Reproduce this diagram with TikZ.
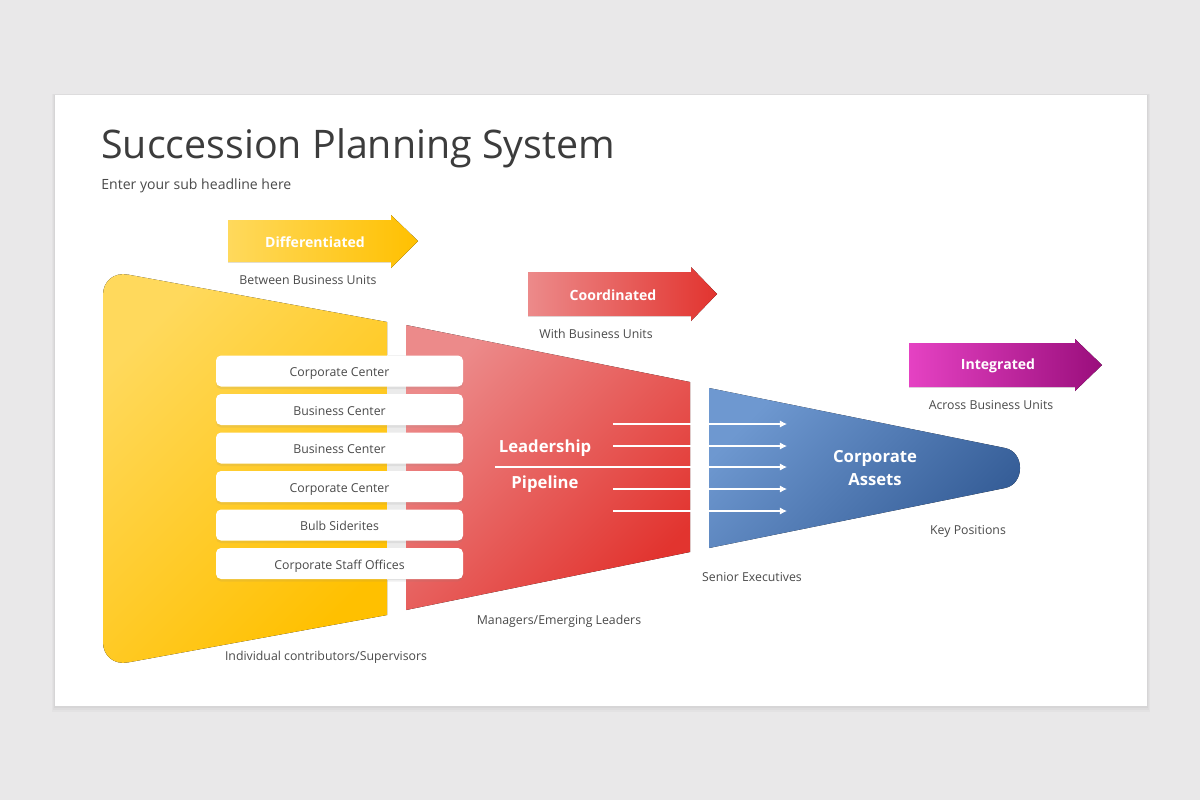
\documentclass[tikz,border=0pt]{standalone}
\usepackage{fontspec}
\setmainfont{Open Sans}
\usetikzlibrary{arrows.meta,shadows}

\definecolor{pagegrey}{HTML}{E9E8E9}
\definecolor{titlegrey}{HTML}{3C3C3C}
\definecolor{textgrey}{HTML}{4A4A4A}
\definecolor{yellowA}{HTML}{FFD95C}
\definecolor{yellowB}{HTML}{FFC000}
\definecolor{redA}{HTML}{EC8A8A}
\definecolor{redB}{HTML}{E2342F}
\definecolor{blueA}{HTML}{6E98D0}
\definecolor{blueB}{HTML}{345C96}
\definecolor{pinkA}{HTML}{E542C3}
\definecolor{pinkB}{HTML}{9A0E7C}

\begin{document}
\begin{tikzpicture}[x=0.2mm,y=-0.2mm,
	lbl/.style={text=textgrey,font=\fontsize{7}{8}\selectfont},
	rowbox/.style={fill=white,rounded corners=1mm,minimum width=49.4mm,minimum height=6.2mm,
		text=textgrey,font=\fontsize{7}{8}\selectfont,text height=1.6ex,text depth=0.4ex,
		drop shadow={opacity=0.12,shadow xshift=0pt,shadow yshift=-0.5mm}},
	flowtxt/.style={text=white,font=\bfseries\fontsize{8}{9}\selectfont},
	bigtxt/.style={text=white,font=\bfseries\fontsize{9.5}{13}\selectfont,align=center},
	pipe/.style={white,line width=0.6pt,-{Latex[length=4pt,width=4pt]}}]

	\useasboundingbox (0,0) rectangle (1200,800);
	\fill[pagegrey] (0,0) rectangle (1200,800);

	% slide
	\fill[black,opacity=0.025] (52,94) rectangle (1150,712);
	\fill[black,opacity=0.025] (53,94) rectangle (1149,710);
	\fill[black,opacity=0.03] (54,95) rectangle (1148,708);
	\fill[white] (55,95) rectangle (1147,706);

	\node[anchor=base west,inner sep=0pt,text=titlegrey,font=\fontsize{22.4}{26}\selectfont] (title) at (101,158) {Succession Planning System};
	\node[anchor=base west,inner sep=0pt,text=textgrey,font=\fontsize{8}{9}\selectfont] (subtitle) at (101,189) {Enter your sub headline here};

	% funnel
	\fill[top color=yellowA,bottom color=yellowB,shading angle=45]
		(387,322) -- (128,274.6) .. controls (114,272) and (103,281) .. (103,295)
		-- (103,642) .. controls (103,656) and (114,665) .. (128,662.4) -- (387,615) -- cycle;
	\fill[top color=redA,bottom color=redB,shading angle=45]
		(406,325) -- (690,382) -- (690,552) -- (406,610) -- cycle;
	\fill[top color=blueA,bottom color=blueB,shading angle=45]
		(709,388) -- (1005,448) .. controls (1025,452) and (1025,484) .. (1005,488) -- (709,548) -- cycle;

	\fill[black!8] (387,355) rectangle (406,580);

	% arrows on top
	\fill[left color=yellowA,right color=yellowB]
		(228,220) -- (391,220) -- (391,215) -- (418,241) -- (391,268) -- (391,262) -- (228,262) -- cycle;
	\fill[left color=redA,right color=redB]
		(528,272) -- (691,272) -- (691,267) -- (717,294) -- (691,321) -- (691,316) -- (528,316) -- cycle;
	\fill[left color=pinkA,right color=pinkB]
		(909,343) -- (1075,343) -- (1075,339) -- (1102,365) -- (1075,391) -- (1075,387) -- (909,387) -- cycle;

	\node[flowtxt] (diff) at (315,242) {Differentiated};
	\node[flowtxt] (coord) at (613,295) {Coordinated};
	\node[flowtxt] (integ) at (998,366) {Integrated};

	\node[lbl] (between) at (308,280) {Between Business Units};
	\node[lbl] (with) at (596,334) {With Business Units};
	\node[lbl] (across) at (991,405) {Across Business Units};

	% rows
	\node[rowbox] (r1) at (339.5,371) {Corporate Center};
	\node[rowbox] (r2) at (339.5,409.5) {Business Center};
	\node[rowbox] (r3) at (339.5,448) {Business Center};
	\node[rowbox] (r4) at (339.5,486.5) {Corporate Center};
	\node[rowbox] (r5) at (339.5,525) {Bulb Siderites};
	\node[rowbox] (r6) at (339.5,563.5) {Corporate Staff Offices};

	% pipeline
	\coordinate (p1s) at (613,424); \coordinate (p1e) at (787,424);
	\coordinate (p2s) at (613,446); \coordinate (p2e) at (787,446);
	\coordinate (p3s) at (495,467); \coordinate (p3e) at (787,467);
	\coordinate (p4s) at (613,489); \coordinate (p4e) at (787,489);
	\coordinate (p5s) at (613,511); \coordinate (p5e) at (787,511);

	\draw[pipe] (p1s) -- (p1e);
	\draw[pipe] (p2s) -- (p2e);
	\draw[pipe] (p3s) -- (p3e);
	\draw[pipe] (p4s) -- (p4e);
	\draw[pipe] (p5s) -- (p5e);

	\node[bigtxt] (lead) at (545,448) {Leadership};
	\node[bigtxt] (pipeline) at (545,484) {Pipeline};
	\node[bigtxt] (assets) at (875,468) {Corporate\\Assets};

	\node[lbl] (keypos) at (968,531) {Key Positions};
	\node[lbl] (senior) at (752,577) {Senior Executives};
	\node[lbl] (managers) at (559,621) {Managers/Emerging Leaders};
	\node[lbl] (indiv) at (326,657) {Individual contributors/Supervisors};
	%	\node[lbl] at (600,700) {};

\end{tikzpicture}
\end{document}
